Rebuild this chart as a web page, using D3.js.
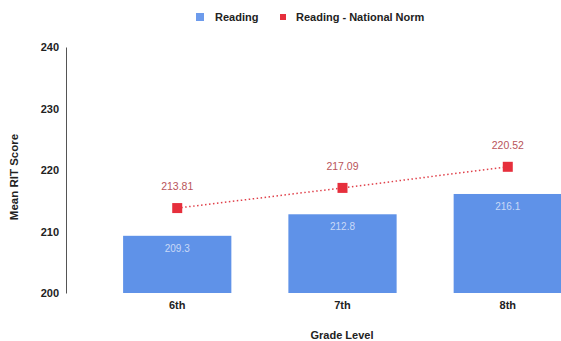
<!DOCTYPE html>
<html>
<head>
<meta charset="utf-8">
<script src="https://cdn.jsdelivr.net/npm/d3@7"></script>
<style>
  body { margin: 0; background: #fff; }
  text { font-family: "Liberation Sans", Arial, sans-serif; }
</style>
</head>
<body>
<script>
//chart data
var grades = ["6th", "7th", "8th"];
var reading = [209.3, 212.8, 216.1];
var norm = [213.81, 217.09, 220.52];
var yTicks = [200, 210, 220, 230, 240];

var width = 561, height = 341;

var svg = d3.select("body").append("svg")
    .attr("width", width)
    .attr("height", height);

//scales
var x = d3.scaleBand()
    .domain(grades)
    .range([95, 590])
    .paddingInner(0.345)
    .paddingOuter(0.17);

var y = d3.scaleLinear()
    .domain([200, 240])
    .range([293, 47]);

//bars
svg.selectAll(".bar")
    .data(reading)
    .enter()
    .append("rect")
    .attr("class", "bar")
    .attr("x", function(d, i){ return x(grades[i]); })
    .attr("y", function(d){ return y(d); })
    .attr("width", x.bandwidth())
    .attr("height", function(d){ return y(200) - y(d); })
    .attr("fill", "#5f92e8");

//bar labels
svg.selectAll(".barLabel")
    .data(reading)
    .enter()
    .append("text")
    .attr("x", function(d, i){ return x(grades[i]) + x.bandwidth() / 2; })
    .attr("y", function(d){ return y(d) + 16; })
    .attr("text-anchor", "middle")
    .attr("font-size", 10)
    .attr("fill", "#c9d9f7")
    .text(function(d){ return d; });

//norm line
var cx = function(i){ return x(grades[i]) + x.bandwidth() / 2; };
var line = d3.line()
    .x(function(d, i){ return cx(i); })
    .y(function(d){ return y(d); });

svg.append("path")
    .datum(norm)
    .attr("d", line)
    .attr("fill", "none")
    .attr("stroke", "#e0404a")
    .attr("stroke-width", 1.5)
    .attr("stroke-dasharray", "1.5,2.5");

svg.selectAll(".pt")
    .data(norm)
    .enter()
    .append("rect")
    .attr("x", function(d, i){ return cx(i) - 5; })
    .attr("y", function(d){ return y(d) - 5; })
    .attr("width", 10)
    .attr("height", 10)
    .attr("fill", "#e62f3c");

svg.selectAll(".ptLabel")
    .data(norm)
    .enter()
    .append("text")
    .attr("x", function(d, i){ return cx(i); })
    .attr("y", function(d){ return y(d) - 18; })
    .attr("text-anchor", "middle")
    .attr("font-size", 10.5)
    .attr("fill", "#b9545a")
    .text(function(d){ return d.toFixed(2); });

//y axis
var yAxis = d3.axisLeft(y).tickValues(yTicks).tickSize(0).tickPadding(7);
var gy = svg.append("g")
    .attr("transform", "translate(66,0)")
    .call(yAxis);
gy.select(".domain").attr("stroke", "#555");
gy.selectAll("text")
    .attr("font-size", 11)
    .attr("font-weight", "bold")
    .attr("fill", "#222")
    .style("font-family", "Liberation Sans, Arial, sans-serif");

//x axis labels
var xAxis = d3.axisBottom(x).tickSize(0).tickPadding(8);
var gx = svg.append("g")
    .attr("transform", "translate(0,293)")
    .call(xAxis);
gx.select(".domain").remove();
gx.selectAll("text")
    .attr("font-size", 11)
    .attr("font-weight", "bold")
    .attr("fill", "#222")
    .style("font-family", "Liberation Sans, Arial, sans-serif");

//axis titles
svg.append("text")
    .attr("x", 342)
    .attr("y", 339)
    .attr("text-anchor", "middle")
    .attr("font-size", 11)
    .attr("font-weight", "bold")
    .attr("fill", "#222")
    .text("Grade Level");

svg.append("text")
    .attr("transform", "translate(18,177) rotate(-90)")
    .attr("text-anchor", "middle")
    .attr("font-size", 11.5)
    .attr("font-weight", "bold")
    .attr("fill", "#222")
    .text("Mean RIT Score");

//legend
var legend = svg.append("g");
legend.append("rect").attr("x", 196).attr("y", 13).attr("width", 8).attr("height", 8).attr("fill", "#6d9bec");
legend.append("text").attr("x", 215).attr("y", 21).attr("font-size", 11).attr("font-weight", "bold").attr("fill", "#222").text("Reading");
legend.append("rect").attr("x", 280).attr("y", 14).attr("width", 6).attr("height", 6).attr("fill", "#e62f3c");
legend.append("text").attr("x", 296).attr("y", 21).attr("font-size", 11).attr("font-weight", "bold").attr("fill", "#222").text("Reading - National Norm");
</script>
</body>
</html>
